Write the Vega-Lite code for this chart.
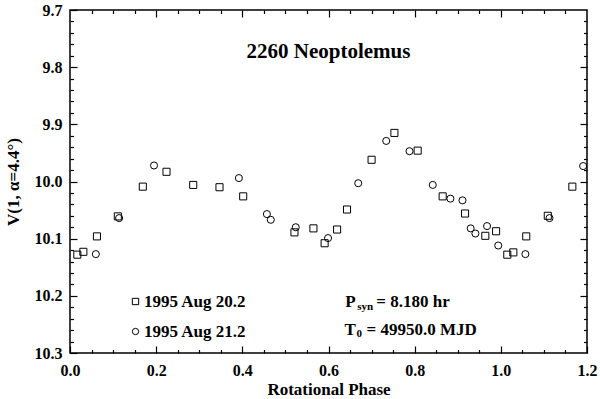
{
  "$schema": "https://vega.github.io/schema/vega-lite/v6.json",
  "width": 517,
  "height": 343,
  "autosize": "none",
  "padding": {"left": 70, "top": 10, "right": 13, "bottom": 46},
  "background": "white",
  "config": {
    "view": {"stroke": "black", "strokeWidth": 1.5},
    "font": "Liberation Serif",
    "axis": {"grid": false, "domain": false, "tickColor": "black", "tickWidth": 1.2, "labelColor": "black", "titleColor": "black"}
  },
  "data": {
    "values": [
      {"phase": 0.017, "mag": 10.128, "date": "1995 Aug 20.2"},
      {"phase": 0.031, "mag": 10.123, "date": "1995 Aug 20.2"},
      {"phase": 0.0625, "mag": 10.096, "date": "1995 Aug 20.2"},
      {"phase": 0.111, "mag": 10.061, "date": "1995 Aug 20.2"},
      {"phase": 0.169, "mag": 10.009, "date": "1995 Aug 20.2"},
      {"phase": 0.224, "mag": 9.983, "date": "1995 Aug 20.2"},
      {"phase": 0.286, "mag": 10.006, "date": "1995 Aug 20.2"},
      {"phase": 0.347, "mag": 10.010, "date": "1995 Aug 20.2"},
      {"phase": 0.402, "mag": 10.026, "date": "1995 Aug 20.2"},
      {"phase": 0.521, "mag": 10.089, "date": "1995 Aug 20.2"},
      {"phase": 0.565, "mag": 10.082, "date": "1995 Aug 20.2"},
      {"phase": 0.591, "mag": 10.108, "date": "1995 Aug 20.2"},
      {"phase": 0.620, "mag": 10.084, "date": "1995 Aug 20.2"},
      {"phase": 0.643, "mag": 10.049, "date": "1995 Aug 20.2"},
      {"phase": 0.700, "mag": 9.962, "date": "1995 Aug 20.2"},
      {"phase": 0.753, "mag": 9.915, "date": "1995 Aug 20.2"},
      {"phase": 0.807, "mag": 9.946, "date": "1995 Aug 20.2"},
      {"phase": 0.865, "mag": 10.026, "date": "1995 Aug 20.2"},
      {"phase": 0.917, "mag": 10.056, "date": "1995 Aug 20.2"},
      {"phase": 0.964, "mag": 10.095, "date": "1995 Aug 20.2"},
      {"phase": 0.989, "mag": 10.087, "date": "1995 Aug 20.2"},
      {"phase": 1.015, "mag": 10.128, "date": "1995 Aug 20.2"},
      {"phase": 1.029, "mag": 10.124, "date": "1995 Aug 20.2"},
      {"phase": 1.059, "mag": 10.096, "date": "1995 Aug 20.2"},
      {"phase": 1.109, "mag": 10.060, "date": "1995 Aug 20.2"},
      {"phase": 1.166, "mag": 10.009, "date": "1995 Aug 20.2"},
      {"phase": 0.060, "mag": 10.127, "date": "1995 Aug 21.2"},
      {"phase": 0.114, "mag": 10.064, "date": "1995 Aug 21.2"},
      {"phase": 0.195, "mag": 9.972, "date": "1995 Aug 21.2"},
      {"phase": 0.392, "mag": 9.994, "date": "1995 Aug 21.2"},
      {"phase": 0.457, "mag": 10.057, "date": "1995 Aug 21.2"},
      {"phase": 0.466, "mag": 10.067, "date": "1995 Aug 21.2"},
      {"phase": 0.524, "mag": 10.080, "date": "1995 Aug 21.2"},
      {"phase": 0.599, "mag": 10.099, "date": "1995 Aug 21.2"},
      {"phase": 0.669, "mag": 10.003, "date": "1995 Aug 21.2"},
      {"phase": 0.734, "mag": 9.929, "date": "1995 Aug 21.2"},
      {"phase": 0.788, "mag": 9.947, "date": "1995 Aug 21.2"},
      {"phase": 0.842, "mag": 10.006, "date": "1995 Aug 21.2"},
      {"phase": 0.883, "mag": 10.030, "date": "1995 Aug 21.2"},
      {"phase": 0.911, "mag": 10.033, "date": "1995 Aug 21.2"},
      {"phase": 0.930, "mag": 10.082, "date": "1995 Aug 21.2"},
      {"phase": 0.941, "mag": 10.091, "date": "1995 Aug 21.2"},
      {"phase": 0.968, "mag": 10.078, "date": "1995 Aug 21.2"},
      {"phase": 0.994, "mag": 10.112, "date": "1995 Aug 21.2"},
      {"phase": 1.057, "mag": 10.127, "date": "1995 Aug 21.2"},
      {"phase": 1.113, "mag": 10.064, "date": "1995 Aug 21.2"},
      {"phase": 1.191, "mag": 9.973, "date": "1995 Aug 21.2"}
    ]
  },
  "resolve": {"axis": {"x": "independent", "y": "independent"}},
  "layer": [
    {
      "mark": {"type": "point", "filled": false, "color": "black", "strokeWidth": 1, "size": 50, "opacity": 1},
      "encoding": {
        "x": {"field": "phase", "type": "quantitative", "scale": {"domain": [0, 1.2], "nice": false, "zero": false},
          "axis": {"orient": "bottom", "values": [0, 0.2, 0.4, 0.6, 0.8, 1.0, 1.2], "format": ".1f", "ticks": true, "tickSize": -7, "labelPadding": 16, "labelFontSize": 16, "labelFontWeight": "bold", "labelFont": "Liberation Serif", "labelFlush": false, "title": "Rotational Phase", "titleFontSize": 17, "titleFontWeight": "bold", "titleFont": "Liberation Serif", "titlePadding": 3}},
        "y": {"field": "mag", "type": "quantitative", "scale": {"domain": [9.7, 10.3], "nice": false, "zero": false, "reverse": true},
          "axis": {"orient": "left", "values": [9.7, 9.8, 9.9, 10.0, 10.1, 10.2, 10.3], "format": ".1f", "ticks": true, "tickSize": -7, "labelPadding": 15, "labelFontSize": 16, "labelFontWeight": "bold", "labelFont": "Liberation Serif", "labelFlush": false, "title": "V(1, α=4.4°)", "titleFontSize": 17, "titleFontWeight": "bold", "titleFont": "Liberation Serif", "titlePadding": 12}},
        "shape": {"field": "date", "type": "nominal",
          "scale": {"domain": ["1995 Aug 20.2", "1995 Aug 21.2"], "range": ["square", "circle"]},
          "legend": {"orient": "none", "legendX": 57, "legendY": 283, "title": null, "labelFont": "Liberation Serif", "labelFontSize": 17, "labelFontWeight": "bold", "labelColor": "black", "symbolSize": 40, "symbolStrokeColor": "black", "symbolStrokeWidth": 1, "symbolFillColor": "transparent", "rowPadding": 12, "labelOffset": 0}}
      }
    },
    {
      "mark": {"type": "point", "opacity": 0},
      "encoding": {
        "x": {"field": "phase", "type": "quantitative", "axis": {"orient": "bottom", "values": [0.05, 0.1, 0.15, 0.25, 0.3, 0.35, 0.45, 0.5, 0.55, 0.65, 0.7, 0.75, 0.85, 0.9, 0.95, 1.05, 1.1, 1.15], "labels": false, "title": null, "tickSize": -3.5}},
        "y": {"field": "mag", "type": "quantitative", "axis": {"orient": "left", "values": [9.72, 9.74, 9.76, 9.78, 9.82, 9.84, 9.86, 9.88, 9.92, 9.94, 9.96, 9.98, 10.02, 10.04, 10.06, 10.08, 10.12, 10.14, 10.16, 10.18, 10.22, 10.24, 10.26, 10.28], "labels": false, "title": null, "tickSize": -3.5}}
      }
    },
    {
      "mark": {"type": "point", "opacity": 0},
      "encoding": {
        "x": {"field": "phase", "type": "quantitative", "axis": {"orient": "top", "values": [0.2, 0.4, 0.6, 0.8, 1.0], "labels": false, "title": null, "tickSize": -7}},
        "y": {"field": "mag", "type": "quantitative", "axis": {"orient": "right", "values": [9.8, 9.9, 10.0, 10.1, 10.2], "labels": false, "title": null, "tickSize": -7}}
      }
    },
    {
      "mark": {"type": "point", "opacity": 0},
      "encoding": {
        "x": {"field": "phase", "type": "quantitative", "axis": {"orient": "top", "values": [0.05, 0.1, 0.15, 0.25, 0.3, 0.35, 0.45, 0.5, 0.55, 0.65, 0.7, 0.75, 0.85, 0.9, 0.95, 1.05, 1.1, 1.15], "labels": false, "title": null, "tickSize": -3.5}},
        "y": {"field": "mag", "type": "quantitative", "axis": {"orient": "right", "values": [9.72, 9.74, 9.76, 9.78, 9.82, 9.84, 9.86, 9.88, 9.92, 9.94, 9.96, 9.98, 10.02, 10.04, 10.06, 10.08, 10.12, 10.14, 10.16, 10.18, 10.22, 10.24, 10.26, 10.28], "labels": false, "title": null, "tickSize": -3.5}}
      }
    },
    {
      "data": {"values": [{}]},
      "mark": {"type": "text", "text": "2260 Neoptolemus", "font": "Liberation Serif", "fontSize": 21, "fontWeight": "bold", "color": "black", "align": "center", "baseline": "alphabetic"},
      "encoding": {"x": {"datum": 0.6, "type": "quantitative", "axis": null}, "y": {"datum": 9.784, "type": "quantitative", "axis": null}}
    },
    {
      "data": {"values": [{}]},
      "mark": {"type": "text", "text": "P", "font": "Liberation Serif", "fontSize": 17, "fontWeight": "bold", "color": "black", "align": "left", "baseline": "middle"},
      "encoding": {"x": {"datum": 0.639, "type": "quantitative", "axis": null}, "y": {"datum": 10.211, "type": "quantitative", "axis": null}}
    },
    {
      "data": {"values": [{}]},
      "mark": {"type": "text", "text": "syn", "font": "Liberation Serif", "fontSize": 11, "fontWeight": "bold", "color": "black", "align": "left", "baseline": "middle", "dx": 12, "dy": 5},
      "encoding": {"x": {"datum": 0.639, "type": "quantitative", "axis": null}, "y": {"datum": 10.211, "type": "quantitative", "axis": null}}
    },
    {
      "data": {"values": [{}]},
      "mark": {"type": "text", "text": "= 8.180 hr", "font": "Liberation Serif", "fontSize": 17, "fontWeight": "bold", "color": "black", "align": "left", "baseline": "middle", "dx": 31},
      "encoding": {"x": {"datum": 0.639, "type": "quantitative", "axis": null}, "y": {"datum": 10.211, "type": "quantitative", "axis": null}}
    },
    {
      "data": {"values": [{}]},
      "mark": {"type": "text", "text": "T", "font": "Liberation Serif", "fontSize": 17, "fontWeight": "bold", "color": "black", "align": "left", "baseline": "middle"},
      "encoding": {"x": {"datum": 0.637, "type": "quantitative", "axis": null}, "y": {"datum": 10.26, "type": "quantitative", "axis": null}}
    },
    {
      "data": {"values": [{}]},
      "mark": {"type": "text", "text": "0", "font": "Liberation Serif", "fontSize": 11, "fontWeight": "bold", "color": "black", "align": "left", "baseline": "middle", "dx": 12, "dy": 4},
      "encoding": {"x": {"datum": 0.637, "type": "quantitative", "axis": null}, "y": {"datum": 10.26, "type": "quantitative", "axis": null}}
    },
    {
      "data": {"values": [{}]},
      "mark": {"type": "text", "text": "= 49950.0 MJD", "font": "Liberation Serif", "fontSize": 17, "fontWeight": "bold", "color": "black", "align": "left", "baseline": "middle", "dx": 22},
      "encoding": {"x": {"datum": 0.637, "type": "quantitative", "axis": null}, "y": {"datum": 10.26, "type": "quantitative", "axis": null}}
    }
  ]
}
